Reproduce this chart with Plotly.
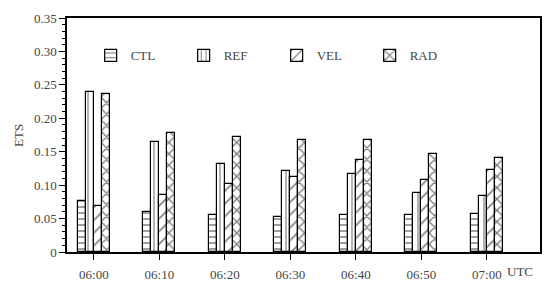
import plotly.graph_objects as go

categories = ["06:00", "06:10", "06:20", "06:30", "06:40", "06:50", "07:00"]
ctl = [0.076, 0.060, 0.055, 0.053, 0.056, 0.055, 0.057]
ref = [0.240, 0.165, 0.132, 0.121, 0.116, 0.089, 0.084]
vel = [0.069, 0.085, 0.102, 0.112, 0.137, 0.108, 0.123]
rad = [0.237, 0.178, 0.172, 0.168, 0.168, 0.147, 0.140]
series = [("CTL", ctl, "-", 6, 0.25), ("REF", ref, "|", 6, 0.2),
          ("VEL", vel, "/", 9, 0.18), ("RAD", rad, "x", 8, 0.32)]
ytick_vals = [0, 0.05, 0.10, 0.15, 0.20, 0.25, 0.30, 0.35]
ytick_text = ["0", "0.05", "0.10", "0.15", "0.20", "0.25", "0.30", "0.35"]

FONT = "Liberation Serif"
TXT = "#444"
xidx = list(range(len(categories)))
bw = 0.122
fig = go.Figure()
for i, (name, vals, shape, size, sol) in enumerate(series):
    off = (i - 1.5) * bw
    fig.add_trace(go.Bar(
        x=[x + off for x in xidx], y=vals, name=name, width=bw,
        marker=dict(color="white", line=dict(color="black", width=1.2),
                    pattern=dict(shape=shape, fgcolor="black", bgcolor="white",
                                 fillmode="overlay", size=size, solidity=sol)),
    ))

fig.update_layout(
    width=555, height=285,
    margin=dict(l=67, r=15, t=18, b=33),
    paper_bgcolor="white", plot_bgcolor="white",
    font=dict(family=FONT, size=13, color=TXT),
    bargap=0, barmode="overlay",
    showlegend=True,
    legend=dict(orientation="h", x=0.05, y=0.84, xanchor="left", yanchor="middle",
                bgcolor="rgba(0,0,0,0)", entrywidth=48, entrywidthmode="pixels",
                font=dict(family=FONT, size=13, color=TXT)),
    xaxis=dict(range=[-0.41, 6.81], tickmode="array", tickvals=xidx, ticktext=categories,
               ticks="outside", ticklen=6, tickcolor="black", tickwidth=1,
               ticklabelstandoff=4, automargin=False,
               showline=True, linecolor="black", linewidth=1.5, mirror=True,
               showgrid=False, zeroline=False),
    yaxis=dict(range=[0, 0.35], tickmode="array", tickvals=ytick_vals, ticktext=ytick_text,
               ticks="outside", ticklen=6, tickcolor="black", tickwidth=1, automargin=False,
               minor=dict(tickmode="linear", tick0=0, dtick=0.01, ticks="outside", ticklen=3,
                          tickcolor="black", tickwidth=1, showgrid=False),
               showline=True, linecolor="black", linewidth=1.5, mirror=True,
               showgrid=False, zeroline=False),
    annotations=[
        dict(text="UTC", xref="paper", yref="paper", x=0.989, y=-0.085, xanchor="right",
             yanchor="middle", showarrow=False, font=dict(family=FONT, size=13, color=TXT)),
        dict(text="ETS", xref="paper", yref="paper", x=-0.1036, y=0.5, textangle=-90,
             xanchor="center", yanchor="middle", showarrow=False,
             font=dict(family=FONT, size=13, color=TXT)),
    ],
)
fig.write_html("out.html", config={"displayModeBar": False},
               post_script="document.body.style.margin='0';document.body.style.overflow='hidden';")
